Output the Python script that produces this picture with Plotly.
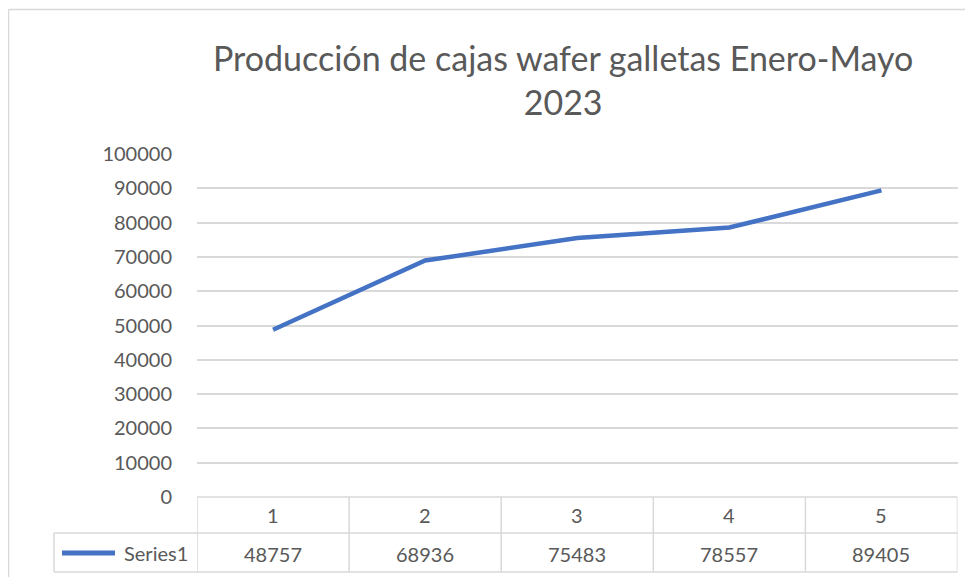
import plotly.graph_objects as go

categories = ["1", "2", "3", "4", "5"]
series_name = "Series1"
values = [48757, 68936, 75483, 78557, 89405]
y_ticks = list(range(0, 100001, 10000))
title = "Producción de cajas wafer galletas Enero-Mayo<br>2023"

W, H = 973, 577
PAGE_MARGIN = 8  # the browser puts the figure 8px in from the page corner
GRAY = "#595959"
GRID = "#D9D9D9"
BLUE = "#4472C4"
FONT = "Lato, Open Sans, sans-serif"


def px_x(p):
    return (p - PAGE_MARGIN) / W


def px_y(p):
    return (H - (p - PAGE_MARGIN)) / H


xpos = [i + 1 for i in range(len(categories))]

fig = go.Figure()
fig.add_trace(go.Scatter(x=xpos, y=values, mode="lines", name=series_name,
                         line=dict(color=BLUE, width=4.5), showlegend=False))

# data table under the plot
header_top, row_mid, table_bottom = 497, 533, 572
shapes = []
line_style = dict(color=GRID, width=1.5)
# horizontal table lines
shapes.append(dict(type="line", xref="x", yref="paper", x0=0.5, x1=len(xpos) + 0.5,
                   y0=px_y(header_top), y1=px_y(header_top), line=line_style))
shapes.append(dict(type="line", xref="paper", yref="paper", x0=px_x(54), x1=px_x(957.5),
                   y0=px_y(row_mid), y1=px_y(row_mid), line=line_style))
shapes.append(dict(type="line", xref="paper", yref="paper", x0=px_x(54), x1=px_x(957.5),
                   y0=px_y(table_bottom), y1=px_y(table_bottom), line=line_style))
# vertical table lines
for i in range(len(xpos) + 1):
    shapes.append(dict(type="line", xref="x", yref="paper", x0=0.5 + i, x1=0.5 + i,
                       y0=px_y(header_top), y1=px_y(table_bottom), line=line_style))
shapes.append(dict(type="line", xref="paper", yref="paper", x0=px_x(54), x1=px_x(54),
                   y0=px_y(row_mid), y1=px_y(table_bottom), line=line_style))
# legend key in the table
shapes.append(dict(type="line", xref="paper", yref="paper", x0=px_x(62), x1=px_x(115),
                   y0=px_y(553), y1=px_y(553), line=dict(color=BLUE, width=5)))
# chart outer border (left and top)
shapes.append(dict(type="line", xref="paper", yref="paper", x0=px_x(8.5), x1=px_x(8.5),
                   y0=0, y1=px_y(9.5), line=line_style))
shapes.append(dict(type="line", xref="paper", yref="paper", x0=px_x(8.5), x1=1,
                   y0=px_y(9.5), y1=px_y(9.5), line=line_style))

cell_font = dict(size=20, color=GRAY, family=FONT)
annotations = []
for xp, cat, v in zip(xpos, categories, values):
    annotations.append(dict(x=xp, y=px_y((header_top + row_mid) / 2), xref="x", yref="paper",
                            xanchor="center", yanchor="middle",
                            text=cat, showarrow=False, font=cell_font))
    annotations.append(dict(x=xp, y=px_y((row_mid + table_bottom) / 2 + 1), xref="x", yref="paper",
                            xanchor="center", yanchor="middle",
                            text=str(v), showarrow=False, font=cell_font))
annotations.append(dict(x=px_x(190), y=px_y(553), xref="paper", yref="paper",
                        xanchor="right", yanchor="middle",
                        text=series_name, showarrow=False, font=cell_font))
annotations.append(dict(x=px_x(563), y=px_y(80), xref="paper", yref="paper",
                        xanchor="center", yanchor="middle",
                        text=title, showarrow=False, align="center",
                        font=dict(size=34, color=GRAY, family=FONT)))

fig.update_layout(
    width=W, height=H, autosize=False,
    margin=dict(l=0, r=0, t=0, b=0, pad=0),
    paper_bgcolor="white", plot_bgcolor="white",
    shapes=shapes, annotations=annotations,
    xaxis=dict(domain=[px_x(197), px_x(957.5)], range=[0.5, len(xpos) + 0.5],
               showticklabels=False, showgrid=False, zeroline=False, showline=False,
               automargin=False),
    yaxis=dict(domain=[px_y(497), px_y(154)], range=[0, 100000], tickvals=y_ticks,
               tickformat="d",
               showgrid=True, gridcolor=GRID, gridwidth=1.5, zeroline=False, showline=False,
               ticks="", ticklabelstandoff=24, automargin=False,
               tickfont=dict(size=20, color=GRAY, family=FONT)),
)

fig.write_html("out.html")
